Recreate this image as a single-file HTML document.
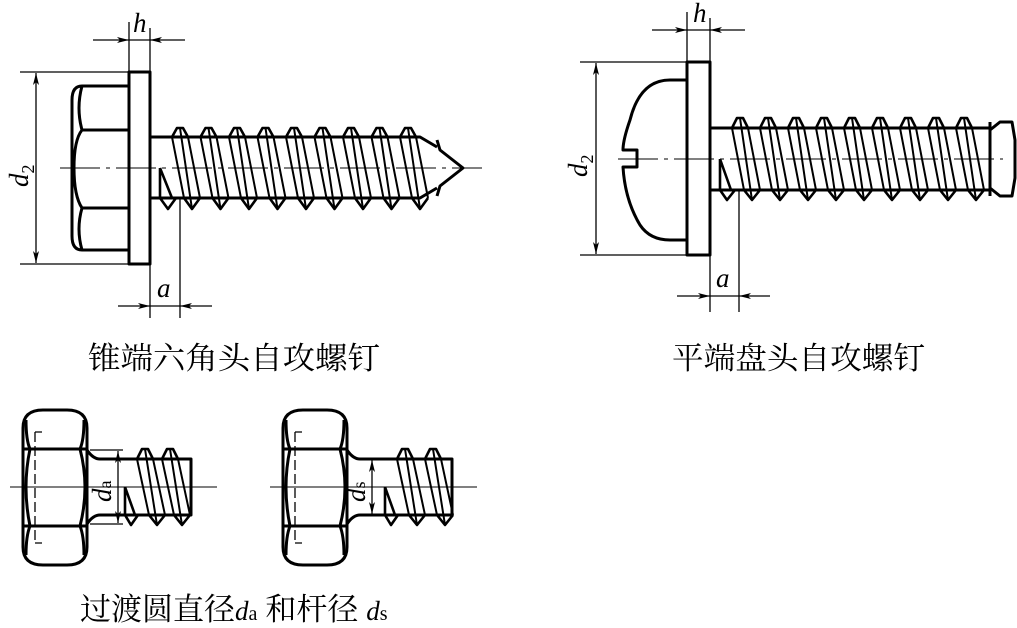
<!DOCTYPE html>
<html><head><meta charset="utf-8"><style>
html,body{margin:0;padding:0;background:#fff;width:1017px;height:628px;overflow:hidden}
svg{display:block}
.t{font-family:"Liberation Serif","Noto Serif CJK SC",serif;font-style:italic;font-size:27px}
.c{font-family:"Noto Serif CJK SC","Liberation Serif",serif;font-size:31px}
</style></head><body>
<svg id="s" width="1017" height="628" viewBox="0 0 1017 628" xmlns="http://www.w3.org/2000/svg">
<defs>
<marker id="ar" viewBox="0 0 12 6" refX="12" refY="3" markerWidth="12" markerHeight="6" orient="auto" markerUnits="userSpaceOnUse"><path d="M0,0 L12,3 L0,6 L3,3 z" fill="#000"/></marker>
</defs>
<g stroke="#000" fill="none" stroke-width="1.3">
<line x1="129" y1="22" x2="129" y2="72"/><line x1="150" y1="28" x2="150" y2="72"/>
<line x1="93" y1="40" x2="129" y2="40" marker-end="url(#ar)"/><line x1="185" y1="40" x2="150" y2="40" marker-end="url(#ar)"/>
<line x1="129" y1="40" x2="150" y2="40"/>
<line x1="20" y1="72" x2="129" y2="72"/><line x1="20" y1="264" x2="129" y2="264"/>
<line x1="36" y1="168" x2="36" y2="73" marker-end="url(#ar)"/><line x1="36" y1="168" x2="36" y2="263" marker-end="url(#ar)"/>
<line x1="150" y1="264" x2="150" y2="318"/><line x1="180" y1="198" x2="180" y2="318"/>
<line x1="118" y1="306" x2="150" y2="306" marker-end="url(#ar)"/><line x1="212" y1="306" x2="180" y2="306" marker-end="url(#ar)"/>
<line x1="150" y1="306" x2="180" y2="306"/>
<line x1="60" y1="168" x2="482" y2="168" stroke-dasharray="40,6,4,6" stroke-width="1"/>
<line x1="687" y1="12" x2="687" y2="62"/><line x1="710" y1="18" x2="710" y2="62"/>
<line x1="652" y1="30" x2="687" y2="30" marker-end="url(#ar)"/><line x1="745" y1="30" x2="710" y2="30" marker-end="url(#ar)"/>
<line x1="687" y1="30" x2="710" y2="30"/>
<line x1="580" y1="62" x2="687" y2="62"/><line x1="580" y1="255" x2="687" y2="255"/>
<line x1="596" y1="160" x2="596" y2="63" marker-end="url(#ar)"/><line x1="596" y1="160" x2="596" y2="254" marker-end="url(#ar)"/>
<line x1="710" y1="255" x2="710" y2="312"/><line x1="739" y1="190" x2="739" y2="312"/>
<line x1="677" y1="296" x2="710" y2="296" marker-end="url(#ar)"/><line x1="770" y1="296" x2="739" y2="296" marker-end="url(#ar)"/>
<line x1="710" y1="296" x2="739" y2="296"/>
<line x1="618" y1="159" x2="1003" y2="159" stroke-dasharray="40,6,4,6" stroke-width="1"/>
<line x1="10" y1="487" x2="217" y2="487" stroke-width="1"/>
<line x1="270" y1="487" x2="477" y2="487" stroke-width="1"/>
<line x1="90" y1="450" x2="123" y2="450"/><line x1="90" y1="524" x2="123" y2="524"/>
<line x1="118" y1="487" x2="118" y2="451" marker-end="url(#ar)"/><line x1="118" y1="487" x2="118" y2="523" marker-end="url(#ar)"/>
<line x1="372" y1="487" x2="372" y2="460" marker-end="url(#ar)"/><line x1="372" y1="487" x2="372" y2="514" marker-end="url(#ar)"/>
</g>
<g stroke="#000" fill="none" stroke-width="3" stroke-linejoin="round">
<rect x="129" y="72" width="21" height="192"/>
<path d="M129,86 H82 Q72,86 72,100 V236 Q72,250 82,250 H129"/>
<path d="M129,130 H82 Q74,140 74,168 Q74,196 82,208 H129"/>
<path d="M82,86 Q76,108 82,130 M82,208 Q76,229 82,250"/>
<path d="M150,137 H420 L437,147 M150,198 H420 L437,188"/>
<path d="M437,140 L440,150 L463,168 L440,186 L437,196"/>
<rect x="687" y="62" width="23" height="193"/>
<path d="M687,80 H670 Q640,80 630,120 Q623,140 623,150 H637 V167 H623 Q625,200 640,225 Q650,240 670,240 H687"/>
<path d="M710,128 H990 M710,190 H990 M990,122 V196 M990,130 L1000,122 H1012 L1015,140 V178 L1012,196 H1000 L990,188"/>
<path d="M87,428 Q87,410 67,410 H43 Q23,410 23,428 V547 Q23,565 43,565 H67 Q87,565 87,547 Z"/>
<path d="M23,449 H87 M23,526 H87"/>
<path d="M30,449 Q22,487 30,526 M80,449 Q90,487 80,526 M26,420 Q26,440 30,449 M84,420 Q84,440 80,449 M30,526 Q26,536 26,555 M80,526 Q84,536 84,555"/>
<path d="M87,450 Q93,459 100,459 H191 V515 H100 Q93,515 87,524"/>
<path d="M347,428 Q347,410 327,410 H303 Q283,410 283,428 V547 Q283,565 303,565 H327 Q347,565 347,547 Z"/>
<path d="M283,449 H347 M283,526 H347"/>
<path d="M290,449 Q282,487 290,526 M340,449 Q350,487 340,526 M286,420 Q286,440 290,449 M344,420 Q344,440 340,449 M290,526 Q286,536 286,555 M340,526 Q344,536 344,555"/>
<path d="M347,450 Q353,459 360,459 H452 V515 H360 Q353,515 347,524"/>
</g>
<g stroke="#000" fill="none" stroke-width="1.3" stroke-dasharray="10,4">
<line x1="35" y1="432" x2="35" y2="543"/><line x1="295" y1="432" x2="295" y2="543"/>
</g>
<g stroke="#000" stroke-width="1.3"><path d="M35,432 H42 M35,543 H42 M295,432 H302 M295,543 H302"/></g>
<g id="thr" stroke="#000" fill="none" stroke-width="2.6" stroke-linejoin="round"></g>
<g fill="#000">
<text class="t" x="133" y="32">h</text>
<text class="t" x="693" y="22">h</text>
<text class="t" x="157" y="297">a</text>
<text class="t" x="716" y="287">a</text>
<text class="t" transform="translate(28,187) rotate(-90)">d<tspan font-size="18" dy="6" font-style="normal">2</tspan></text>
<text class="t" transform="translate(587,177) rotate(-90)">d<tspan font-size="18" dy="6" font-style="normal">2</tspan></text>
<text class="t" transform="translate(111,502) rotate(-90)">d<tspan font-size="18" font-style="normal">a</tspan></text>
<text class="t" transform="translate(365,502) rotate(-90)">d<tspan font-size="18" font-style="normal">s</tspan></text>
<text class="c" x="88" y="369" textLength="292" lengthAdjust="spacingAndGlyphs">锥端六角头自攻螺钉</text>
<text class="c" x="672" y="369" textLength="253" lengthAdjust="spacingAndGlyphs">平端盘头自攻螺钉</text>
<text class="c" x="80" y="620">过渡圆直径<tspan class="t">d</tspan><tspan font-family="Liberation Serif" font-size="20">a</tspan> 和杆径 <tspan class="t">d</tspan><tspan font-family="Liberation Serif" font-size="20">s</tspan></text>
</g>
</svg>
<script>
var g=document.getElementById('thr'),h='';
function thread(xs,n,p,ty,tc,by,bc,off){
 for(var i=0;i<n;i++){
  var xt=xs+p*i, xb=xt+off;
  h+='<path d="M'+(xt-8)+','+ty+' L'+(xt-3)+','+tc+' L'+(xt+3)+','+tc+' L'+(xt+8)+','+ty+'"/>';
  h+='<path d="M'+(xb-8)+','+by+' L'+(xb)+','+bc+' L'+(xb+8)+','+by+'"/>';
  h+='<path d="M'+(xt-8)+','+ty+' L'+(xb-8)+','+by+' M'+(xt+8)+','+ty+' L'+(xb+8)+','+by+' M'+(xt)+','+tc+' L'+(xb)+','+bc+'" stroke-width="2"/>';
 }
}
thread(180,9,28.5,137,128,198,209,12);
h+='<path d="M160,168 L172,198 M160,168 L160,198 L168,209 L176,198"/>';
thread(740,9,28,128,118,190,200,12);
h+='<path d="M720,159 L731,190 M720,159 V190 L727,200 L735,190"/>';
thread(145,2,25,459,449,515,525,12);
h+='<path d="M125,487 L135,515 M125,487 V515 L131,525 L138,515"/>';
thread(405,2,28,459,449,515,525,12);
h+='<path d="M385,487 L395,515 M385,487 V515 L391,525 L398,515"/>';
g.innerHTML=h;
</script>
</body></html>
